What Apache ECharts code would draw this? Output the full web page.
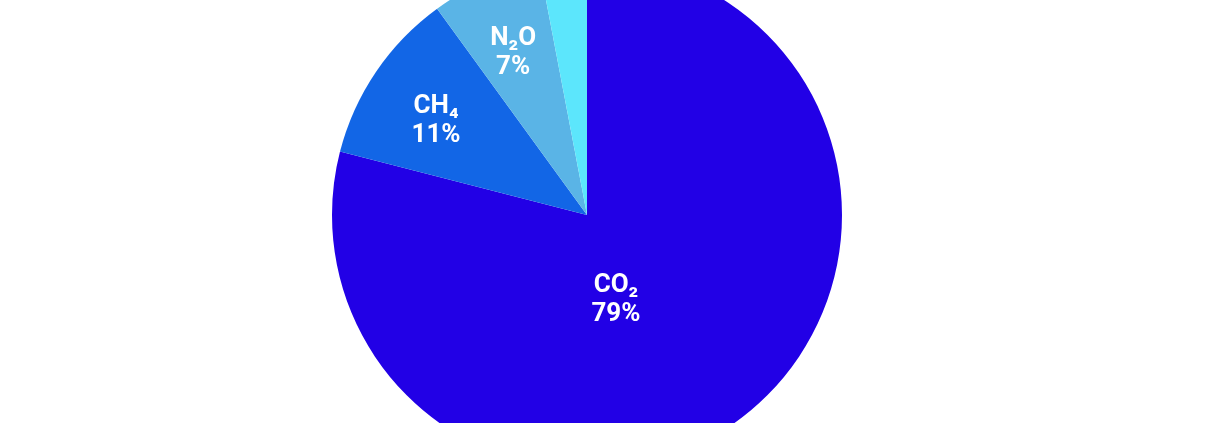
<!DOCTYPE html>
<html>
<head>
<meta charset="utf-8">
<script src="https://cdn.jsdelivr.net/npm/echarts@6/dist/echarts.min.js"></script>
<style>
  html, body { margin: 0; padding: 0; background: #fff; }
  #chart { width: 1210px; height: 423px; }
</style>
</head>
<body>
<div id="chart"></div>
<script>
// gas shares, clockwise from 12 o'clock
const gases = ['CO₂', 'CH₄', 'N₂O', 'F-gases'];
const shares = [79, 11, 7, 3];
const showLabel = [true, true, true, false];

const colors = ['#2200e6', '#1266e6', '#5ab4e6', '#5ce6fc'];
// nudge labels from the default mid-radius spot
const labelOffsets = [[-51, -18], [-43, -21], [-22, -42], [0, 0]];

const chart = echarts.init(document.getElementById('chart'));

chart.setOption({
  animation: false,
  series: [{
    type: 'pie',
    center: [587, 215],
    radius: [0, 255],
    startAngle: 90,
    clockwise: true,
    avoidLabelOverlap: false,
    itemStyle: { borderWidth: 0 },
    label: {
      show: true,
      position: 'inside',
      color: '#fff',
      fontFamily: 'Roboto',
      fontWeight: 'bold',
      fontSize: 26,
      lineHeight: 29,
      formatter: p => p.name + '\n' + p.value + '%'
    },
    labelLine: { show: false },
    emphasis: { disabled: true },
    data: gases.map((g, i) => ({
      name: g,
      value: shares[i],
      itemStyle: { color: colors[i] },
      label: { show: showLabel[i], offset: labelOffsets[i] }
    }))
  }]
});
</script>
</body>
</html>
